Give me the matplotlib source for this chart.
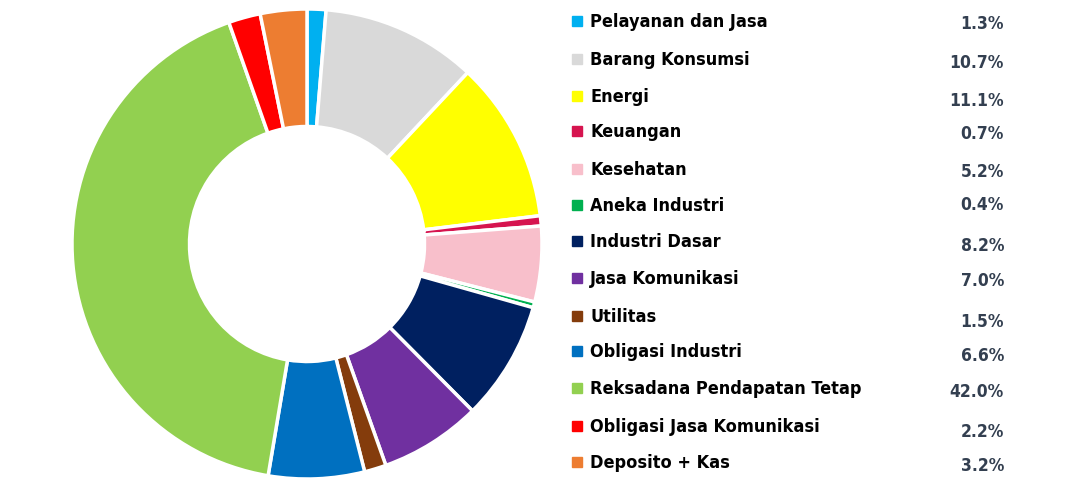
import matplotlib
matplotlib.use("Agg")
import matplotlib.pyplot as plt
from matplotlib import font_manager

# Data
labels = ["Pelayanan dan Jasa", "Barang Konsumsi", "Energi", "Keuangan",
          "Kesehatan", "Aneka Industri", "Industri Dasar", "Jasa Komunikasi",
          "Utilitas", "Obligasi Industri", "Reksadana Pendapatan Tetap",
          "Obligasi Jasa Komunikasi", "Deposito + Kas"]
values = [1.3, 10.7, 11.1, 0.7, 5.2, 0.4, 8.2, 7.0, 1.5, 6.6, 42.0, 2.2, 3.2]
colors = ["#00B0F0", "#D9D9D9", "#FFFF00", "#D6144F", "#F8BFCB", "#00B050",
          "#002060", "#7030A0", "#843C0C", "#0070C0", "#92D050", "#FF0000",
          "#ED7D31"]
label_y = [22, 60, 97, 132, 170, 206, 242, 279, 317, 352, 389, 427, 463]
pct_y = [24, 63, 101, 134, 172, 205, 246, 281, 322, 356, 392, 432, 466]

# pick a condensed font if one is installed
fonts = font_manager.fontManager.ttflist
names = {f.name for f in fonts}
stretch = "normal"
if "Liberation Sans Narrow" in names:
    family, size = "Liberation Sans Narrow", 14
elif any(f.name == "DejaVu Sans" and f.stretch == "condensed" for f in fonts):
    family, size, stretch = "DejaVu Sans", 13, "condensed"
else:
    family, size = "Roboto", 12.5

W, H = 1066, 481
fig = plt.figure(figsize=(W / 100, H / 100), dpi=100)

# donut
cx, cy, r = 307, 245, 235
ax = fig.add_axes([(cx - r) / W, (H - cy - r) / H, 2 * r / W, 2 * r / H])
ax.pie(values, colors=colors, startangle=90, counterclock=False, radius=1,
       wedgeprops=dict(width=0.5, edgecolor="white", linewidth=2.5))
ax.set_xlim(-1, 1)
ax.set_ylim(-1, 1)
ax.set_aspect("equal")
ax.axis("off")

# legend + percentages
for lab, v, c, ly, py in zip(labels, values, colors, label_y, pct_y):
    fig.patches.append(plt.Rectangle((572 / W, 1 - (ly + 5) / H), 10 / W, 10 / H,
                                     transform=fig.transFigure, color=c))
    fig.text(590 / W, 1 - ly / H, lab, family=family, stretch=stretch,
             weight="bold", fontsize=size, va="center", ha="left", color="black")
    fig.text(1004 / W, 1 - py / H, f"{v:.1f}%", family=family, stretch=stretch,
             weight="bold", fontsize=size - 0.5, va="center", ha="right",
             color="#333F50")

fig.savefig("out.png", dpi=100)
